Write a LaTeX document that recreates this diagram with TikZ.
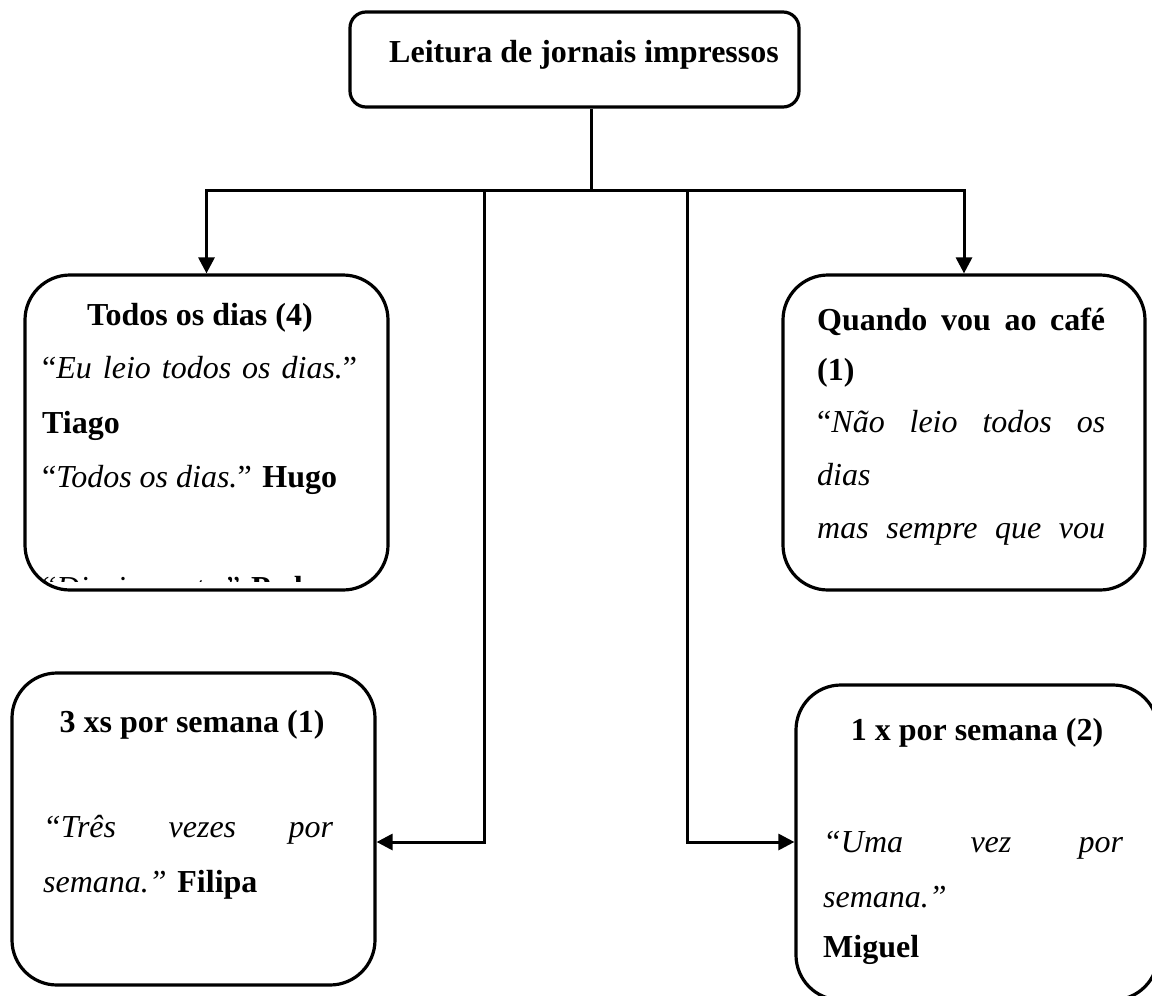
\documentclass[tikz,border=0pt]{standalone}
\usepackage{fontspec}
\setmainfont{Liberation Serif}
\usetikzlibrary{arrows.meta}
\begin{document}
\begin{tikzpicture}[x=1pt,y=-1pt,
  box/.style={draw, line width=3.2pt, rounded corners=#1, inner sep=0pt},
  box/.default=45pt,
  link/.style={line width=3pt},
  arr/.style={line width=3pt, -{Triangle[length=16pt,width=16pt]}},
  txt/.style={inner sep=0pt, font=\fontsize{32}{40}\selectfont},
]
\useasboundingbox (0,0) rectangle (1152,996);
\clip (0,0) rectangle (1152,996);

% boxes
\node[box=16pt, minimum width=449pt, minimum height=95pt] (top) at (574.5,59.5) {};
\node[box, minimum width=363pt, minimum height=315pt] (tl) at (206.5,432.5) {};
\node[box, minimum width=362pt, minimum height=315pt] (tr) at (964,432.5) {};
\node[box, minimum width=363pt, minimum height=312pt] (bl) at (193.5,829) {};
\node[box, minimum width=362pt, minimum height=315pt] (br) at (977,842.5) {};

% connectors
\coordinate (j) at (591,190);
\coordinate (lv) at (484,190);
\coordinate (la) at (484,842);
\coordinate (rv) at (687,190);
\coordinate (ra) at (687,842);
\draw[link] (top.south -| j) -- (j);
\draw[arr] (j) -| (tl.north);
\draw[arr] (j) -| (tr.north);
\draw[arr] (lv) -- (la) -- (la -| bl.east);
\draw[arr] (rv) -- (ra) -- (ra -| br.west);

% top
\node[txt, anchor=base west] (t0) at (389,62) {\bfseries Leitura de jornais impressos};

% top left
\node[txt, anchor=base] (tl1) at (200,325) {\bfseries Todos os dias (4)};
\node[txt, anchor=base west] (tl2) at (42,378) {\makebox[315pt][s]{“\textit{Eu leio todos os dias.}”}};
\node[txt, anchor=base west] (tl3) at (42,433) {\bfseries Tiago};
\node[txt, anchor=base west] (tl4) at (42,487) {“\textit{Todos os dias.}” \textbf{Hugo}};
\begin{scope}
\clip (25,560) rectangle (388,581.5);
\node[txt, anchor=base west] (tl5) at (42,598) {“\textit{Diariamente.}” \textbf{Pedro}};
\end{scope}

% top right
\node[txt, anchor=base west] (tr1) at (817,330) {\makebox[288pt][s]{\bfseries Quando vou ao café}};
\node[txt, anchor=base west] (tr2) at (817,380) {\bfseries (1)};
\node[txt, anchor=base west] (tr3) at (817,432) {\makebox[288pt][s]{“\textit{Não leio todos os}}};
\node[txt, anchor=base west] (tr4) at (817,485) {\itshape dias};
\node[txt, anchor=base west] (tr5) at (817,538) {\makebox[288pt][s]{\itshape mas sempre que vou}};

% bottom left
\node[txt, anchor=base] (bl1) at (192,732) {\bfseries 3 xs por semana (1)};
\node[txt, anchor=base west] (bl2) at (43,837) {\makebox[290pt][s]{\itshape “Três vezes por}};
\node[txt, anchor=base west] (bl3) at (43,892) {\textit{semana.”} \textbf{Filipa}};

% bottom right
\node[txt, anchor=base] (br1) at (977,740) {\bfseries 1 x por semana (2)};
\node[txt, anchor=base west] (br2) at (823,852) {\makebox[300pt][s]{\itshape “Uma vez por}};
\node[txt, anchor=base west] (br3) at (823,907) {\itshape semana.”};
\node[txt, anchor=base west] (br4) at (823,957) {\bfseries Miguel};
\end{tikzpicture}
\end{document}
